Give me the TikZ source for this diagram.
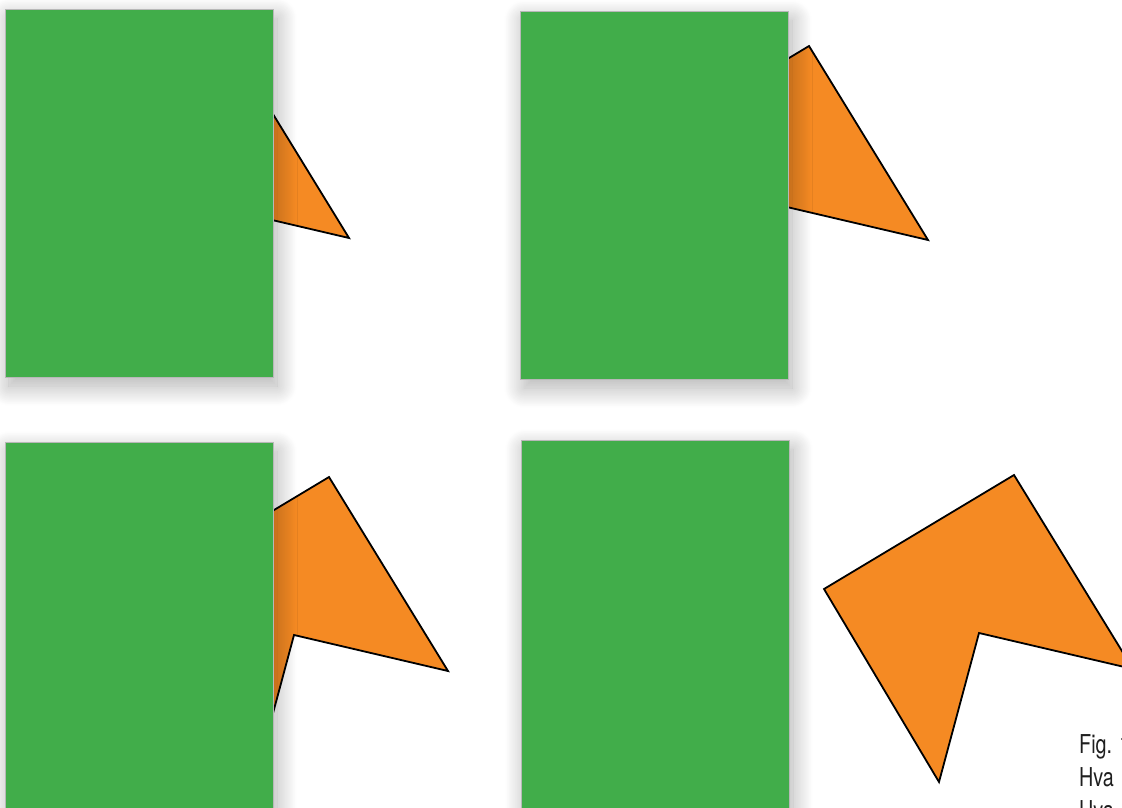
\documentclass[tikz,border=0pt]{standalone}
\usepackage{fontspec}
\setmainfont{TeX Gyre Heros}
\usetikzlibrary{shadows.blur}
\definecolor{cardgreen}{HTML}{41AD4A}
\definecolor{arroworange}{HTML}{F58A23}
\definecolor{captiongray}{HTML}{1F1F1F}

\begin{document}
\begin{tikzpicture}[x=1pt, y=-1pt,
	card/.style={fill=cardgreen, draw=black!28, line width=0.6pt,
		blur shadow={shadow xshift=4pt, shadow yshift=-9pt, shadow blur radius=20pt, shadow blur steps=30, shadow opacity=32}},
	chevron/.style={fill=arroworange, draw=black, line width=1.8pt, line join=miter},
	caption/.style={anchor=base west, inner sep=0pt, text=captiongray, font=\fontsize{26}{32}\selectfont}]
	\useasboundingbox (0,0) rectangle (1122,808);
	\clip (0,0) rectangle (1122,808);
	% card corner x / y, tip position in the card
	\foreach \cx/\cy/\tx in {5/9/344, 520/11/408, 5/442/443, 521/440/612} {
		\begin{scope}[shift={(\cx,\cy)}]
			\coordinate (tip) at (\tx,229);
			\draw[chevron] (tip) -- ++(-154,-36) -- ++(-40,149) -- ++(-115,-193) -- ++(190,-114) -- cycle;
			\path[card] (0,0) rectangle (268,368);
		\end{scope}
	}
	\node[caption] (figline) at (1079,753) {\scalebox{0.76}[1]{Fig. 1}};
	\node[caption] (hvaline) at (1079,786) {\scalebox{0.76}[1]{Hva}};
	\node[caption] (hvalinetwo) at (1079,819) {\scalebox{0.76}[1]{Hva}};
\end{tikzpicture}
\end{document}
